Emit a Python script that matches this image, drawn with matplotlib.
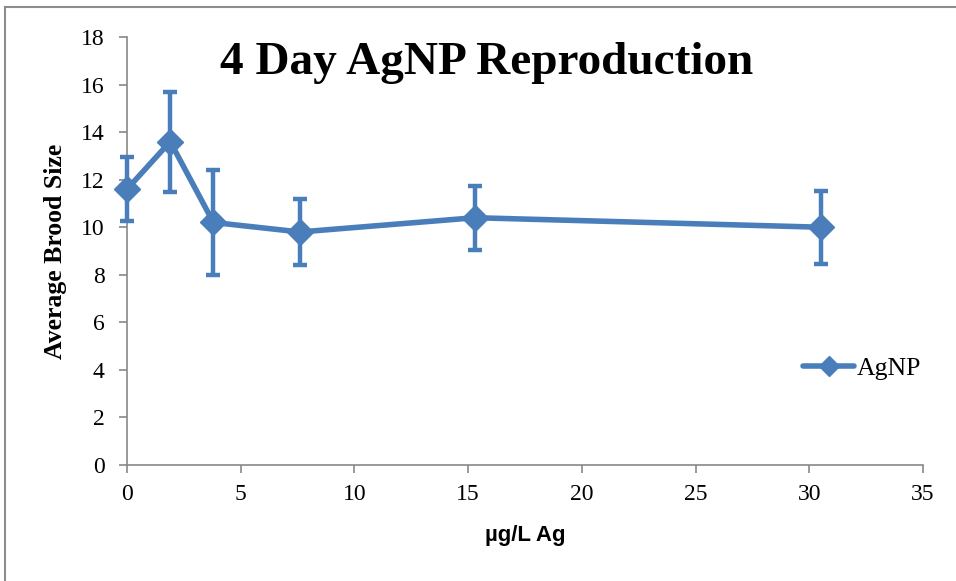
import matplotlib.pyplot as plt
from matplotlib.lines import Line2D

# data
conc = [0, 1.9, 3.8, 7.6, 15.3, 30.5]
brood = [11.6, 13.6, 10.2, 9.8, 10.4, 10.0]
err = [1.35, 2.1, 2.2, 1.4, 1.35, 1.53]
xticks = [0, 5, 10, 15, 20, 25, 30, 35]
yticks = [0, 2, 4, 6, 8, 10, 12, 14, 16, 18]

blue = '#4a7ebb'
serif = ['Liberation Serif', 'DejaVu Serif']

fig = plt.figure(figsize=(9.56, 5.81), dpi=100)
ax = fig.add_axes([127 / 956, 1 - 465 / 581, 796 / 956, 428 / 581])

ax.errorbar(conc, brood, yerr=err, color=blue, lw=4, marker='D', ms=13,
            elinewidth=3.2, capsize=5, capthick=3.2, label='AgNP',
            solid_capstyle='round', clip_on=False, zorder=3)

ax.set_xlim(0, 35)
ax.set_ylim(0, 18)
ax.set_xticks(xticks)
ax.set_yticks(yticks)
for sp in ['top', 'right']:
    ax.spines[sp].set_visible(False)
for sp in ['left', 'bottom']:
    ax.spines[sp].set_color('#888888')
    ax.spines[sp].set_linewidth(1.2)
ax.tick_params(colors='#888888', length=6, width=1.2, labelcolor='black',
               labelsize=17)
ax.tick_params(axis='x', pad=8)
ax.tick_params(axis='y', pad=10)
for lab in ax.get_xticklabels() + ax.get_yticklabels():
    lab.set_family(serif)

ax.set_ylabel('Average Brood Size', family=serif, fontweight='bold',
              fontsize=18.5, labelpad=10)
ax.set_xlabel('µg/L Ag', family=['Liberation Sans Narrow', 'Liberation Sans', 'DejaVu Sans'],
              fontweight='bold', fontsize=16, labelpad=14)
ax.text(0.452, 0.94, '4 Day AgNP Reproduction', transform=ax.transAxes,
        ha='center', va='center', family=serif, fontweight='bold', fontsize=34)

handle = Line2D([], [], color=blue, lw=4, marker='D', ms=10, solid_capstyle='round')
ax.legend([handle], ['AgNP'], loc='center left', bbox_to_anchor=(0.82, 0.225),
          frameon=False, prop={'family': serif, 'size': 18.5}, handlelength=2.0,
          handletextpad=0.1)

# outer chart border (top and left visible)
fig.add_artist(Line2D([5 / 956, 1], [1 - 7 / 581, 1 - 7 / 581], color='#8c8c8c', lw=1.5,
                      transform=fig.transFigure))
fig.add_artist(Line2D([5 / 956, 5 / 956], [0, 1 - 7 / 581], color='#8c8c8c', lw=1.5,
                      transform=fig.transFigure))

fig.savefig('out.png', dpi=100)
